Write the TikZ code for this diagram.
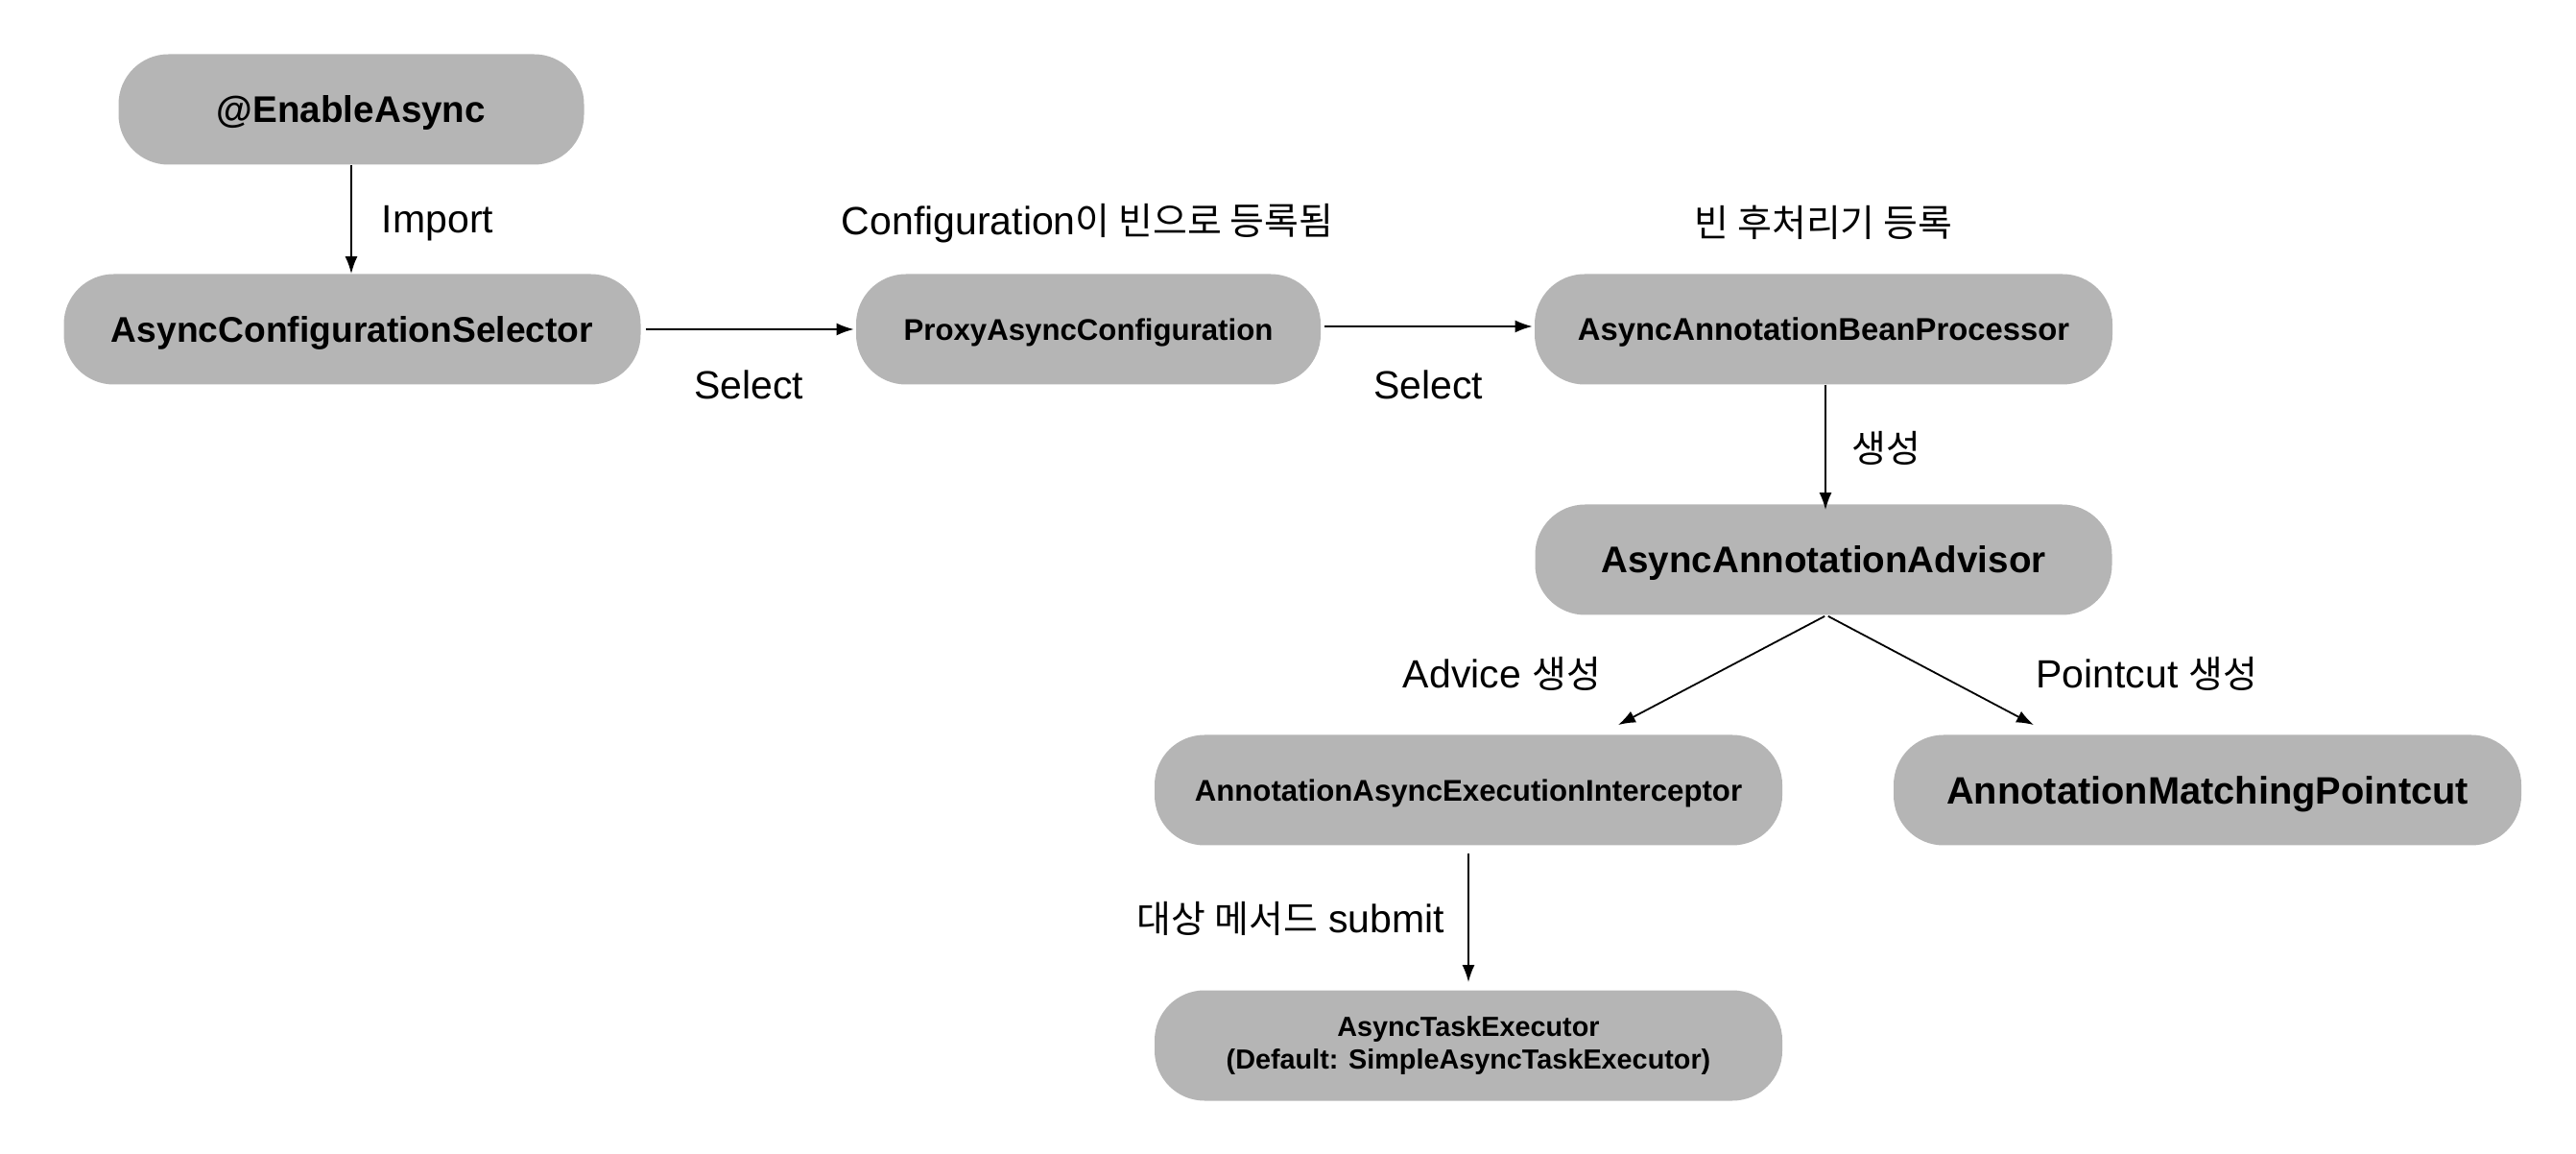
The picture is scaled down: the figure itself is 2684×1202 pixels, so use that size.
\documentclass[tikz,border=0pt]{standalone}
\usepackage{fontspec}
\setmainfont{Liberation Sans}
\newfontfamily\kr[Scale=0.95]{Noto Sans CJK KR}
\usetikzlibrary{arrows.meta}
\definecolor{boxgray}{RGB}{181,181,181}
\tikzset{
  box/.style={fill=boxgray, rounded corners=26pt, minimum height=57.5pt, inner sep=0pt, align=center},
  big/.style={box, text depth=0pt, font=\fontsize{19.3}{22}\selectfont\bfseries},
  small/.style={box, text depth=0pt, font=\fontsize{15.6}{18}\selectfont\bfseries},
  tiny/.style={box, font=\fontsize{14.4}{17}\selectfont\bfseries},
  lbl/.style={font=\fontsize{20.5}{24}\selectfont, inner sep=0pt},
  arr/.style={-{Latex[length=9pt,width=6.5pt]}, line width=0.9pt},
}
\begin{document}
\begin{tikzpicture}[x=0.5pt,y=-0.5pt]
\useasboundingbox (0,0) rectangle (2684,1202);
\node[big, minimum width=242.5pt] (enable) at (366,114) {@EnableAsync};
\node[big, minimum width=300.5pt, font=\fontsize{18.6}{22}\selectfont\bfseries] (sel) at (367,343) {AsyncConfigurationSelector};
\node[small, minimum width=242pt] (proxy) at (1134,343) {ProxyAsyncConfiguration};
\node[small, minimum width=301pt, font=\fontsize{16.4}{18}\selectfont\bfseries] (bpp) at (1900,343) {AsyncAnnotationBeanProcessor};
\node[big, minimum width=300.5pt] (advisor) at (1900,583) {AsyncAnnotationAdvisor};
\node[small, minimum width=327pt] (inter) at (1530,823) {AnnotationAsyncExecutionInterceptor};
\node[big, minimum width=327pt, font=\fontsize{19.9}{22}\selectfont\bfseries] (pc) at (2300,823) {AnnotationMatchingPointcut};
\node[tiny, minimum width=327pt] (exec) at (1530,1089) {AsyncTaskExecutor\\(Default: SimpleAsyncTaskExecutor)};

\node[lbl] (limport) at (456,233) {Import};
\node[lbl] (lconf) at (1133,233) {Configuration{\kr 이 빈으로 등록됨}};
\node[lbl] (lpost) at (1900,232) {\kr 빈 후처리기 등록};
\node[lbl] (lsel1) at (780,401) {Select};
\node[lbl] (lsel2) at (1488,401) {Select};
\node[lbl] (lgen) at (1965,467) {\kr 생성};
\node[lbl] (ladv) at (1565,702) {Advice {\kr 생성}};
\node[lbl] (lpc) at (2237,702) {Pointcut {\kr 생성}};
\node[lbl] (lsub) at (1345,957) {{\kr 대상 메서드} submit};

\draw[arr] (enable.south) -- (enable.south |- sel.north);
\draw[arr, shorten <=2.5pt, shorten >=1pt] (sel.east) -- (proxy.west);
\draw[arr, shorten <=2pt, shorten >=1pt] ([yshift=1.5pt]proxy.east) -- ([yshift=1.5pt]bpp.west);
\draw[arr, shorten >=-3pt] ([xshift=1pt]bpp.south) -- ([xshift=1pt]advisor.north);
\draw[arr, shorten <=1pt] ([xshift=1.5pt]advisor.south) -- ([xshift=78pt,yshift=5pt]inter.north);
\draw[arr, shorten <=1pt] ([xshift=1.5pt]advisor.south) -- ([xshift=-90.5pt,yshift=5pt]pc.north);
\draw[arr, shorten <=4pt, shorten >=4pt] (inter.south) -- (exec.north);
\end{tikzpicture}
\end{document}
